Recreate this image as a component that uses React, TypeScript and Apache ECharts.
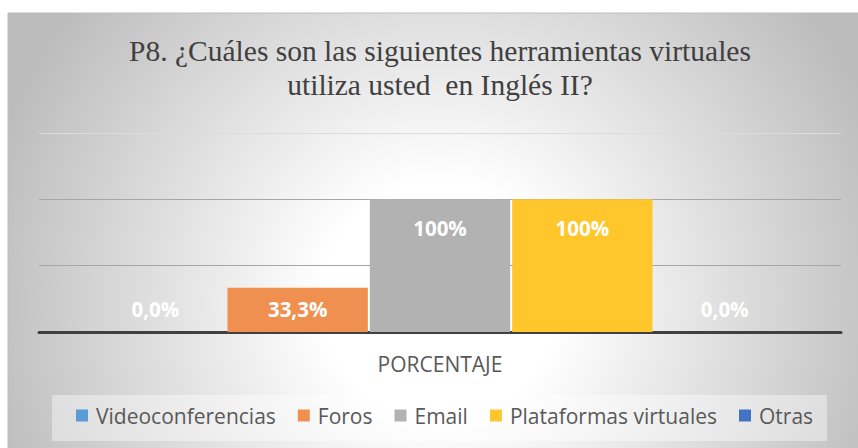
import React, { useEffect, useRef } from "react";
import * as echarts from "echarts";

const titleLines = ["P8. ¿Cuáles son las siguientes herramientas virtuales", "utiliza usted  en Inglés II?"];
const categories = ["PORCENTAJE"];
const seriesNames = ["Videoconferencias", "Foros", "Email", "Plataformas virtuales", "Otras"];
const seriesValues = [0, 33.3, 100, 100, 0];
const seriesLabels = ["0,0%", "33,3%", "100%", "100%", "0,0%"];
const seriesColors = ["#5B9BD5", "#EF8F50", "#B2B2B2", "#FFC72C", "#4472C4"];
const yTicks = [0, 50, 100, 150];

export default function App() {
  const ref = useRef<HTMLDivElement>(null);
  useEffect(() => {
    if (!ref.current) return;
    const chart = echarts.init(ref.current, null, { renderer: "svg" });
    const bg = new echarts.graphic.RadialGradient(440, 300, 470, [
      { offset: 0, color: "#ffffff" },
      { offset: 0.25, color: "#ffffff" },
      { offset: 1, color: "#bcbcbc" },
    ], true);
    chart.setOption({
      animation: false,
      graphic: [
        { type: "rect", z: -10, shape: { x: 8, y: 13, width: 880, height: 460 }, style: { fill: bg, stroke: "#bdbdbd", lineWidth: 1 } },
        { type: "rect", z: -9, shape: { x: 52, y: 395, width: 775, height: 46 }, style: { fill: "rgba(255,255,255,0.4)" } },
        {
          type: "text", z: 5, x: 440, y: 51,
          style: { text: titleLines[0], font: "29.5px 'Liberation Serif'", fill: "#404040", align: "center", verticalAlign: "middle" },
        },
        {
          type: "text", z: 5, x: 440, y: 84.5,
          style: { text: titleLines[1], font: "29.5px 'Liberation Serif'", fill: "#404040", align: "center", verticalAlign: "middle" },
        },
      ],
      grid: { left: 39, right: 17, top: 133, bottom: 116, containLabel: false },
      legend: {
        left: 76, top: 405, padding: 0, itemWidth: 12, itemHeight: 12, itemGap: 22, icon: "rect",
        textStyle: { fontFamily: "Open Sans", fontSize: 21, color: "#595959", padding: [0, 0, 0, 3] },
        data: seriesNames,
      },
      xAxis: {
        type: "category", data: categories,
        axisLine: { lineStyle: { color: "#404040", width: 3 } },
        axisTick: { show: false },
        axisLabel: { fontFamily: "Open Sans", fontSize: 21, color: "#595959", margin: 21 },
      },
      yAxis: {
        type: "value", min: yTicks[0], max: yTicks[yTicks.length - 1], interval: 50,
        axisLabel: { show: false }, axisLine: { show: false }, axisTick: { show: false },
        splitLine: { lineStyle: { color: ["#a6a6a6", "#a6a6a6", "#a6a6a6", "#dcdcdc"], width: 1 } },
      },
      series: seriesNames.map((name, i) => ({
        name, type: "bar", barCategoryGap: "11.5%", barGap: "1.4%",
        itemStyle: { color: seriesColors[i] },
        label: {
          show: true,
          position: seriesValues[i] > 50 ? "insideTop" : "insideBottom",
          distance: seriesValues[i] > 50 ? 18 : 13,
          formatter: () => seriesLabels[i],
          color: "#ffffff", fontFamily: "Open Sans", fontWeight: "bold", fontSize: 20.5,
        },
        data: [seriesValues[i]],
      })),
    });
    return () => chart.dispose();
  }, []);
  return <div ref={ref} style={{ position: "absolute", left: 0, top: 0, width: 858, height: 448 }} />;
}
